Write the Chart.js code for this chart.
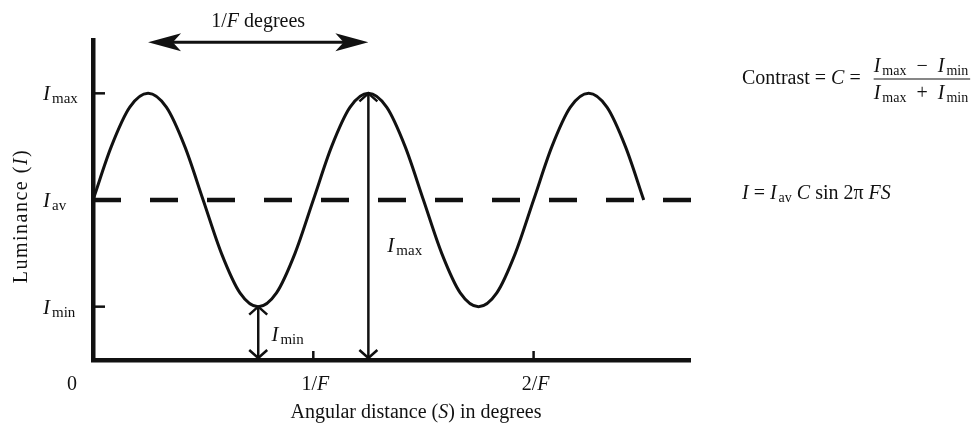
<!DOCTYPE html>
<html>
<head>
<meta charset="utf-8">
<script src="https://cdn.jsdelivr.net/npm/chart.js@4.4.1/dist/chart.umd.min.js"></script>
<style>
  html, body { margin: 0; padding: 0; background: #fff; }
  #wrap { width: 973px; height: 425px; }
</style>
</head>
<body>
<div id="wrap"><canvas id="chart"></canvas></div>
<script>
// Angular distance in periods (units of 1/F) and relative luminance (Iav = 0, Imax = 1, Imin = -1)
const distance = [0, 0.083, 0.167, 0.25, 0.333, 0.417, 0.5, 0.583, 0.667, 0.75, 0.833, 0.917,
                  1, 1.083, 1.167, 1.25, 1.333, 1.417, 1.5, 1.583, 1.667, 1.75, 1.833, 1.917,
                  2, 2.083, 2.167, 2.25, 2.333, 2.417, 2.5];
const luminance = [0, 0.5, 0.87, 1, 0.87, 0.5, 0, -0.5, -0.87, -1, -0.87, -0.5,
                   0, 0.5, 0.87, 1, 0.87, 0.5, 0, -0.5, -0.87, -1, -0.87, -0.5,
                   0, 0.5, 0.87, 1, 0.87, 0.5, 0];
const averageX = [0, 2.76];
const averageY = [0, 0];

const xTicks = [0, 1, 2];
const xTickLabels = ['0', '1/F', '2/F'];
const yTicks = [1, 0, -1];
const yTickSubs = ['max', 'av', 'min'];

// annotation arrows (data units)
const periodArrow = { from: 0.25, to: 1.25, y: 1.48 };
const maxArrow = { x: 1.25, from: 1, to: -1.5 };
const minArrow = { x: 0.75, from: -1, to: -1.5 };

const SERIF = '"Liberation Serif", "DejaVu Serif", serif';
const roman = s => s + 'px ' + SERIF;
const italic = s => 'italic ' + s + 'px ' + SERIF;
const INK = '#111';

// runs: [text, font, dy, dxBefore]
function drawRuns(ctx, runs, x, y, align) {
    let total = 0;
    runs.forEach(r => { ctx.font = r[1]; total += ctx.measureText(r[0]).width + (r[3] || 0); });
    let cx = align === 'center' ? x - total / 2 : (align === 'right' ? x - total : x);
    ctx.textAlign = 'left';
    ctx.textBaseline = 'alphabetic';
    runs.forEach(r => {
        ctx.font = r[1];
        cx += r[3] || 0;
        ctx.fillText(r[0], cx, y + (r[2] || 0));
        cx += ctx.measureText(r[0]).width;
    });
    return total;
}

// I with a subscript
function iSub(sub, size, subSize) {
    return [['I', italic(size)], [sub, roman(subSize), 3, 2]];
}

function line(ctx, x1, y1, x2, y2) {
    ctx.beginPath();
    ctx.moveTo(x1, y1);
    ctx.lineTo(x2, y2);
    ctx.stroke();
}

function filledHead(ctx, tx, ty, dx, dy, len, half) {
    ctx.beginPath();
    ctx.moveTo(tx, ty);
    ctx.lineTo(tx - dx * len - dy * half, ty - dy * len + dx * half);
    ctx.lineTo(tx - dx * len * 0.75, ty - dy * len * 0.75);
    ctx.lineTo(tx - dx * len + dy * half, ty - dy * len - dx * half);
    ctx.closePath();
    ctx.fill();
}

function openHead(ctx, tx, ty, dx, dy, len, half) {
    ctx.beginPath();
    ctx.moveTo(tx - dx * len - dy * half, ty - dy * len + dx * half);
    ctx.lineTo(tx, ty);
    ctx.lineTo(tx - dx * len + dy * half, ty - dy * len - dx * half);
    ctx.stroke();
}

const diagramPlugin = {
    id: 'diagram',
    afterDatasetsDraw(chart) {
        const ctx = chart.ctx;
        const xs = chart.scales.x, ys = chart.scales.y;
        const area = chart.chartArea;
        ctx.save();
        ctx.fillStyle = INK;
        ctx.strokeStyle = INK;
        ctx.lineCap = 'butt';

        // small tick marks
        ctx.lineWidth = 2.5;
        [1, -1].forEach(v => {
            const py = ys.getPixelForValue(v);
            line(ctx, area.left, py, area.left + 12, py);
        });
        xTicks.slice(1).forEach(v => {
            const px = xs.getPixelForValue(v);
            line(ctx, px, area.bottom, px, area.bottom - 9);
        });

        // y tick labels
        yTicks.forEach((v, i) => {
            const py = ys.getPixelForValue(v);
            drawRuns(ctx, iSub(yTickSubs[i], 21, 15), area.left - 50, py + 7, 'left');
        });

        // x tick labels
        xTicks.forEach((v, i) => {
            const px = xs.getPixelForValue(v) + (i === 0 ? -21 : 2);
            const lbl = xTickLabels[i];
            const runs = lbl.indexOf('/') > 0
                ? [[lbl.slice(0, 2), roman(20)], [lbl.slice(2), italic(20)]]
                : [[lbl, roman(20)]];
            drawRuns(ctx, runs, px, area.bottom + 30, 'center');
        });

        // axis titles
        drawRuns(ctx, [['Angular distance (', roman(20)], ['S', italic(20)], [') in degrees', roman(20)]],
            416, 418, 'center');
        ctx.save();
        ctx.translate(27, 216);
        ctx.rotate(-Math.PI / 2);
        ctx.letterSpacing = '1.5px';
        drawRuns(ctx, [['Luminance (', roman(20)], ['I', italic(20)], [')', roman(20)]], 0, 0, 'center');
        ctx.restore();

        // period arrow with label
        const ax1 = xs.getPixelForValue(periodArrow.from);
        const ax2 = xs.getPixelForValue(periodArrow.to);
        const ay = ys.getPixelForValue(periodArrow.y);
        ctx.lineWidth = 3;
        line(ctx, ax1 + 20, ay, ax2 - 20, ay);
        filledHead(ctx, ax1, ay, -1, 0, 33, 9);
        filledHead(ctx, ax2, ay, 1, 0, 33, 9);
        drawRuns(ctx, [['1/', roman(20)], ['F', italic(20)], [' degrees', roman(20)]],
            (ax1 + ax2) / 2, ay - 15, 'center');

        // vertical Imax / Imin arrows
        ctx.lineWidth = 2.5;
        [maxArrow, minArrow].forEach(a => {
            const px = xs.getPixelForValue(a.x);
            const top = ys.getPixelForValue(a.from);
            const bot = ys.getPixelForValue(a.to);
            line(ctx, px, top + 1, px, bot - 2);
            openHead(ctx, px, top, 0, -1, 8, 9);
            openHead(ctx, px, bot - 2, 0, 1, 8, 9);
        });
        drawRuns(ctx, iSub('max', 21, 15), xs.getPixelForValue(1.336), ys.getPixelForValue(-0.42) + 7, 'left');
        drawRuns(ctx, iSub('min', 21, 15), xs.getPixelForValue(0.81), ys.getPixelForValue(-1.26) + 7, 'left');

        // formulas on the right
        const cw = drawRuns(ctx, [['Contrast = ', roman(20)], ['C', italic(20)], [' = ', roman(20)]], 742, 84, 'left');
        const fx = 742 + cw + 8;
        const num = drawRuns(ctx, iSub('max', 20, 14).concat([['\u2212', roman(20), 0, 10]],
            [['I', italic(20), 0, 10]], [['min', roman(14), 3, 2]]), fx, 72, 'left');
        drawRuns(ctx, iSub('max', 20, 14).concat([['+', roman(20), 0, 10]],
            [['I', italic(20), 0, 10]], [['min', roman(14), 3, 2]]), fx, 99, 'left');
        ctx.lineWidth = 1.2;
        line(ctx, fx, 79, fx + num + 2, 79);

        drawRuns(ctx, [['I', italic(20)], [' = ', roman(20)]]
            .concat(iSub('av', 20, 14))
            .concat([[' C', italic(20)], [' sin 2\u03c0 ', roman(20)], ['FS', italic(20)]]), 742, 199, 'left');

        ctx.restore();
    }
};

new Chart(document.getElementById('chart'), {
    type: 'line',
    data: {
        datasets: [
            {
                label: 'Luminance',
                data: distance.map((d, i) => ({ x: d, y: luminance[i] })),
                borderColor: INK,
                borderWidth: 3,
                pointRadius: 0,
                cubicInterpolationMode: 'monotone',
                fill: false
            },
            {
                label: 'Average',
                data: averageX.map((d, i) => ({ x: d, y: averageY[i] })),
                borderColor: INK,
                borderWidth: 4.5,
                borderDash: [28, 29],
                pointRadius: 0,
                fill: false,
                clip: false
            }
        ]
    },
    options: {
        responsive: true,
        maintainAspectRatio: false,
        animation: false,
        devicePixelRatio: 1,
        layout: { padding: { left: 93, right: 283, top: 40, bottom: 65 } },
        plugins: {
            legend: { display: false },
            tooltip: { enabled: false }
        },
        scales: {
            x: {
                type: 'linear',
                min: 0,
                max: 2.71,
                grid: { display: false, drawTicks: false },
                ticks: { display: false },
                border: { display: true, color: INK, width: 4.5 }
            },
            y: {
                min: -1.5,
                max: 1.5,
                grid: { display: false, drawTicks: false },
                ticks: { display: false },
                border: { display: true, color: INK, width: 4.5 }
            }
        }
    },
    plugins: [diagramPlugin]
});
</script>
</body>
</html>
